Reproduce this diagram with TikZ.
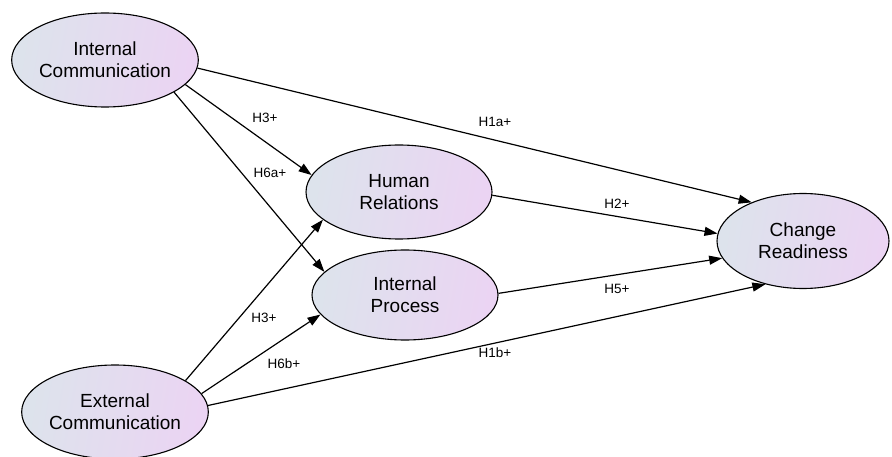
\documentclass[tikz,border=0pt]{standalone}
\usepackage{fontspec}
\setmainfont{Liberation Sans}
\usetikzlibrary{shapes.geometric,arrows.meta}
\definecolor{shadeL}{HTML}{DDE3EC}
\definecolor{shadeR}{HTML}{EBD4F3}
\tikzset{
  construct/.style={ellipse, draw=black, line width=1.1pt,
    left color=shadeL, right color=shadeR, shading angle=80,
    inner sep=0pt, minimum width=186pt, minimum height=94pt,
    align=center, font=\fontsize{19}{22}\selectfont},
  link/.style={line width=1.2pt, -{Triangle[length=13pt,width=9pt]}},
  hyp/.style={inner sep=1pt, font=\fontsize{13.5}{16}\selectfont}
}
\begin{document}
\begin{tikzpicture}[x=1pt,y=-1pt]
  \useasboundingbox (0,0) rectangle (892,457);

  % constructs
  \node[construct] (ic) at (105,60)  {Internal\\Communication};
  \node[construct] (hr) at (399,192) {Human\\Relations};
  \node[construct, minimum height=90pt] (ip) at (405,295) {Internal\\Process};
  \node[construct, minimum width=172pt, minimum height=95pt] (cr) at (803,241) {Change\\Readiness};
  \node[construct] (ec) at (115,412) {External\\Communication};

  % paths
  \draw[link] (ic.-5)  -- (cr.143);
  \draw[link] (ic.-17) -- (hr.169);
  \draw[link] (ic.-25) -- (ip.164);
  \draw[link] (hr.-2)  -- (cr.175);
  \draw[link] (ip.1)   -- (cr.192);
  \draw[link] (ec.24)  -- (hr.200);
  \draw[link] (ec.12)  -- (ip.193);
  \draw[link] (ec.4)   -- (cr.229);

  % hypothesis labels
  \node[hyp] (h3a)  at (265,118) {H3+};
  \node[hyp] (h1a)  at (495,122) {H1a+};
  \node[hyp] (h6a)  at (270,173) {H6a+};
  \node[hyp] (h2)   at (617,204) {H2+};
  \node[hyp] (h5)   at (617,289) {H5+};
  \node[hyp] (h3b)  at (264,318) {H3+};
  \node[hyp] (h6b)  at (284,364) {H6b+};
  \node[hyp] (h1b)  at (495,353) {H1b+};
\end{tikzpicture}
\end{document}
